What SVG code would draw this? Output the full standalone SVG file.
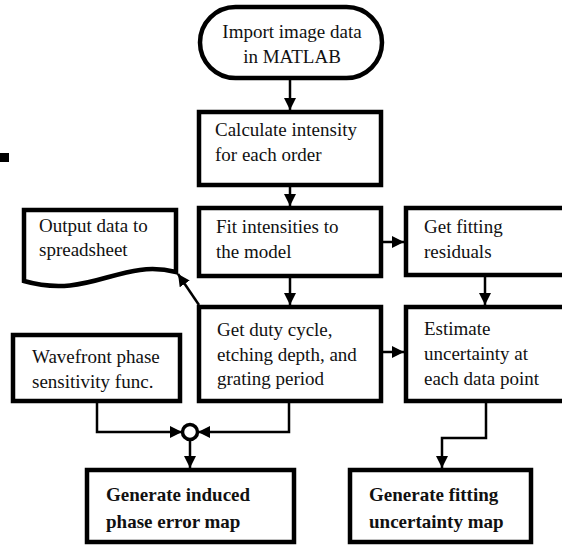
<svg xmlns="http://www.w3.org/2000/svg" width="562" height="546" viewBox="0 0 562 546">
<defs>
<marker id="arr" viewBox="0 0 12 12" refX="12" refY="6" markerWidth="12" markerHeight="12" markerUnits="userSpaceOnUse" orient="auto">
<path d="M0,0 L12,6 L0,12 z" fill="#000"/>
</marker>
</defs>
<style>
.box{fill:#fff;stroke:#000;stroke-width:4.5}
.t{font-family:"Liberation Serif","Times New Roman",serif;font-size:19px;fill:#111}
.b{font-weight:bold}
.c{fill:none;stroke:#000;stroke-width:2.5;marker-end:url(#arr)}
.n{fill:none;stroke:#000;stroke-width:2.5}
</style>
<rect width="562" height="546" fill="#fff"/>
<rect x="0" y="153" width="9" height="9" fill="#000"/>
<g id="connectors">
<line class="c" x1="290" y1="79" x2="290" y2="110"/>
<line class="c" x1="290" y1="187" x2="290" y2="206"/>
<line class="c" x1="383" y1="242" x2="404" y2="242"/>
<line class="c" x1="290" y1="278" x2="290" y2="305"/>
<line class="c" x1="485" y1="277" x2="485" y2="305"/>
<line class="c" x1="383" y1="352" x2="404" y2="352"/>
<line class="c" x1="199" y1="305" x2="178" y2="274"/>
<polyline class="c" points="97,403 97,432 182,432"/>
<polyline class="c" points="289,403 289,432 198,432"/>
<line class="c" x1="190" y1="440" x2="190" y2="468"/>
<polyline class="c" points="486,403 486,438 442,438 442,468"/>
</g>
<g id="import">
<rect class="box" x="200" y="7" width="182" height="71" rx="35.5"/>
<text class="t" x="292" y="38" text-anchor="middle">Import image data</text>
<text class="t" x="292" y="63" text-anchor="middle">in MATLAB</text>
</g>
<g id="calc">
<rect class="box" x="199" y="112" width="182" height="73"/>
<text class="t" x="215" y="136">Calculate intensity</text>
<text class="t" x="215" y="161">for each order</text>
</g>
<g id="fit">
<rect class="box" x="199" y="208" width="182" height="68"/>
<text class="t" x="216" y="233">Fit intensities to</text>
<text class="t" x="216" y="258">the model</text>
</g>
<g id="residuals">
<rect class="box" x="406" y="208" width="170" height="67"/>
<text class="t" x="424" y="233">Get fitting</text>
<text class="t" x="424" y="258">residuals</text>
</g>
<g id="output">
<path class="box" d="M24,210 H176 V272 C120,258 90,300 24,281 Z"/>
<text class="t" x="39" y="232">Output data to</text>
<text class="t" x="39" y="256">spreadsheet</text>
</g>
<g id="duty">
<rect class="box" x="199" y="307" width="182" height="94"/>
<text class="t" x="217" y="336">Get duty cycle,</text>
<text class="t" x="217" y="361">etching depth, and</text>
<text class="t" x="217" y="385">grating period</text>
</g>
<g id="estimate">
<rect class="box" x="406" y="307" width="170" height="94"/>
<text class="t" x="424" y="335">Estimate</text>
<text class="t" x="424" y="360">uncertainty at</text>
<text class="t" x="424" y="385">each data point</text>
</g>
<g id="wavefront">
<rect class="box" x="13" y="335" width="167" height="66"/>
<text class="t" x="32" y="363">Wavefront phase</text>
<text class="t" x="32" y="388">sensitivity func.</text>
</g>
<g id="junction">
<circle cx="190" cy="432" r="7.5" fill="#fff" stroke="#000" stroke-width="3.5"/>
</g>
<g id="phase-error">
<rect class="box" x="87" y="470" width="207" height="72"/>
<text class="t b" x="106" y="501">Generate induced</text>
<text class="t b" x="106" y="528">phase error map</text>
</g>
<g id="uncertainty-map">
<rect class="box" x="350" y="470" width="181" height="72"/>
<text class="t b" x="369" y="501">Generate fitting</text>
<text class="t b" x="369" y="528">uncertainty map</text>
</g>
</svg>
